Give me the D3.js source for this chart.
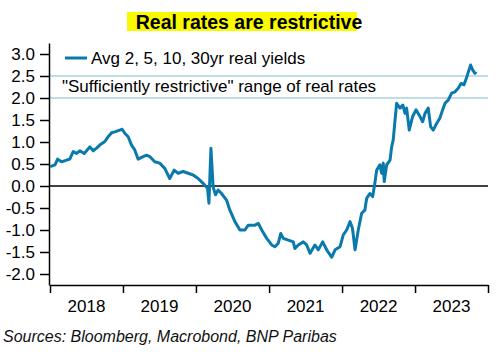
<!DOCTYPE html>
<html>
<head>
<meta charset="utf-8">
<script src="https://cdn.jsdelivr.net/npm/d3@7"></script>
<style>
  body { margin: 0; background: #fff; }
  svg { display: block; font-family: "Liberation Sans", Arial, sans-serif; }
</style>
</head>
<body>
<div id="chart"></div>
<script>
// Avg 2, 5, 10, 30yr real yields
const dates = [
  "2018-01-02","2018-01-26","2018-02-08","2018-02-28","2018-03-25","2018-04-10","2018-04-27","2018-05-14",
  "2018-05-31","2018-06-21","2018-07-03","2018-07-19","2018-08-05","2018-08-22","2018-09-07","2018-10-02",
  "2018-10-19","2018-11-05","2018-11-21","2018-12-16","2018-12-28","2019-01-10","2019-01-27","2019-02-13",
  "2019-03-01","2019-03-18","2019-04-04","2019-04-29","2019-05-15","2019-06-09","2019-07-04","2019-07-29",
  "2019-08-23","2019-09-14","2019-10-04","2019-10-29","2019-11-23","2019-12-18","2020-01-12","2020-02-06",
  "2020-02-28","2020-03-06","2020-03-16","2020-03-27","2020-04-08","2020-04-21","2020-05-08","2020-06-02",
  "2020-06-19","2020-07-14","2020-08-08","2020-09-02","2020-09-19","2020-10-23","2020-11-08","2020-11-25",
  "2020-12-20","2021-01-14","2021-01-30","2021-02-16","2021-02-28","2021-03-13","2021-04-07","2021-05-02",
  "2021-05-10","2021-05-27","2021-06-21","2021-07-08","2021-07-25","2021-08-18","2021-09-04","2021-09-26",
  "2021-10-16","2021-11-10","2021-11-27","2021-12-22","2022-01-07","2022-01-24","2022-02-10","2022-02-22",
  "2022-03-07","2022-03-23","2022-04-09","2022-04-25","2022-05-04","2022-05-20","2022-06-03","2022-06-14",
  "2022-06-23","2022-07-09","2022-07-18","2022-07-26","2022-07-31","2022-08-12","2022-08-29","2022-09-06",
  "2022-09-14","2022-09-23","2022-10-01","2022-10-18","2022-11-01","2022-11-12","2022-11-20","2022-12-03",
  "2022-12-20","2023-01-06","2023-01-22","2023-02-08","2023-02-20","2023-03-08","2023-03-20","2023-04-02",
  "2023-04-19","2023-05-05","2023-05-19","2023-05-31","2023-06-16","2023-07-03","2023-07-20","2023-08-05",
  "2023-08-19","2023-09-03","2023-09-17","2023-09-28","2023-10-06","2023-10-16","2023-10-28","2023-11-02"
];
const yields = [
  0.44, 0.48, 0.61, 0.55, 0.59, 0.61, 0.78, 0.74,
  0.80, 0.74, 0.80, 0.89, 0.80, 0.86, 0.93, 1.01,
  1.12, 1.21, 1.23, 1.27, 1.29, 1.20, 1.12, 0.93,
  0.82, 0.61, 0.65, 0.70, 0.67, 0.55, 0.52, 0.40,
  0.17, 0.36, 0.29, 0.33, 0.29, 0.25, 0.17, 0.06,
  -0.05, -0.39, 0.86, -0.02, -0.20, -0.09, -0.17, -0.32,
  -0.55, -0.81, -1.00, -1.00, -0.89, -0.89, -0.85, -1.00,
  -1.19, -1.34, -1.38, -1.30, -1.08, -1.19, -1.23, -1.27,
  -1.42, -1.34, -1.27, -1.34, -1.53, -1.34, -1.45, -1.27,
  -1.45, -1.62, -1.45, -1.38, -1.11, -1.00, -0.81, -0.96,
  -1.45, -1.00, -0.62, -0.55, -0.28, -0.17, -0.24, 0.06,
  0.36, 0.48, 0.29, 0.52, 0.10, 0.48, 0.59, 0.89,
  1.05, 1.50, 1.88, 1.77, 1.84, 1.65, 1.77, 1.27,
  1.58, 1.73, 1.61, 1.46, 1.65, 1.77, 1.35, 1.27,
  1.42, 1.54, 1.73, 1.88, 1.95, 2.11, 2.14, 2.22,
  2.33, 2.30, 2.48, 2.64, 2.75, 2.64, 2.56, 2.60
];
// "Sufficiently restrictive" band edges
const bandLines = [2.0, 2.5];
const yTicks = [-2.0, -1.5, -1.0, -0.5, 0.0, 0.5, 1.0, 1.5, 2.0, 2.5, 3.0];
const years = [2018, 2019, 2020, 2021, 2022, 2023];

const width = 501, height = 354;
const parse = d3.timeParse("%Y-%m-%d");
const data = dates.map((d, i) => ({date: parse(d), value: yields[i]}));

const svg = d3.select("#chart").append("svg")
  .attr("width", width)
  .attr("height", height);

const x = d3.scaleTime()
  .domain([new Date(2018, 0, 1), new Date(2024, 0, 1)])
  .range([50, 488]);
const y = d3.scaleLinear()
  .domain([-2.25, 3.25])
  .range([285, 43]);

// Title with yellow highlight
svg.append("rect")
  .attr("x", 127).attr("y", 12)
  .attr("width", 230).attr("height", 19)
  .attr("fill", "#f9f900");
svg.append("text")
  .attr("x", 249).attr("y", 29)
  .attr("text-anchor", "middle")
  .attr("font-size", 19.5)
  .attr("font-weight", "bold")
  .attr("fill", "#000")
  .text("Real rates are restrictive");

// band reference lines
svg.selectAll("line.band")
  .data(bandLines)
  .enter().append("line")
  .attr("class", "band")
  .attr("x1", 49).attr("x2", 488)
  .attr("y1", d => y(d)).attr("y2", d => y(d))
  .attr("stroke", "#a9d2de")
  .attr("stroke-width", 1.5);

// zero line
svg.append("line")
  .attr("x1", 49).attr("x2", 488)
  .attr("y1", y(0)).attr("y2", y(0))
  .attr("stroke", "#000")
  .attr("stroke-width", 1.5);

// Axes
const yAxis = d3.axisLeft(y)
  .tickValues(yTicks)
  .tickSize(9)
  .tickSizeOuter(0)
  .tickPadding(5)
  .tickFormat(d => d.toFixed(1));
const yAxisG = svg.append("g")
  .attr("transform", "translate(49,0)")
  .call(yAxis);

const xAxis = d3.axisBottom(x)
  .tickValues(d3.range(2018, 2025).map(yr => new Date(yr, 0, 1)))
  .tickSize(8)
  .tickSizeOuter(0)
  .tickFormat("");
const xAxisG = svg.append("g")
  .attr("transform", "translate(0,285)")
  .call(xAxis);

[yAxisG, xAxisG].forEach(g => {
  g.select(".domain").attr("stroke", "#000").attr("stroke-width", 1.5);
  g.selectAll(".tick line").attr("stroke", "#000").attr("stroke-width", 1.5);
  g.selectAll(".tick text")
    .attr("fill", "#000")
    .attr("font-size", 17)
    .attr("font-family", "Liberation Sans, Arial, sans-serif");
});

// year labels centered between ticks
svg.selectAll("text.year")
  .data(years)
  .enter().append("text")
  .attr("class", "year")
  .attr("x", d => (x(new Date(d, 0, 1)) + x(new Date(d + 1, 0, 1))) / 2)
  .attr("y", 312)
  .attr("text-anchor", "middle")
  .attr("font-size", 17)
  .attr("fill", "#000")
  .text(d => d);

// series line
const line = d3.line()
  .x(d => x(d.date))
  .y(d => y(d.value));
svg.append("path")
  .datum(data)
  .attr("fill", "none")
  .attr("stroke", "#0a7aad")
  .attr("stroke-width", 3)
  .attr("stroke-linejoin", "round")
  .attr("d", line);

// legend
svg.append("line")
  .attr("x1", 65).attr("x2", 87)
  .attr("y1", 58).attr("y2", 58)
  .attr("stroke", "#0a7aad")
  .attr("stroke-width", 3);
svg.append("text")
  .attr("x", 91).attr("y", 64)
  .attr("font-size", 17)
  .attr("fill", "#000")
  .text("Avg 2, 5, 10, 30yr real yields");
svg.append("text")
  .attr("x", 62).attr("y", 92)
  .attr("font-size", 17)
  .attr("fill", "#000")
  .text("\"Sufficiently restrictive\" range of real rates");

// source
svg.append("text")
  .attr("x", 3).attr("y", 342)
  .attr("font-size", 16)
  .attr("font-style", "italic")
  .attr("fill", "#111")
  .text("Sources: Bloomberg, Macrobond, BNP Paribas");
</script>
</body>
</html>
